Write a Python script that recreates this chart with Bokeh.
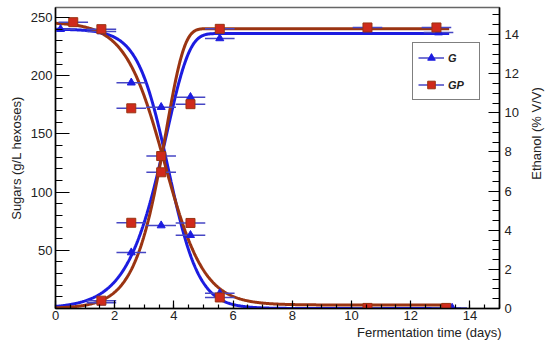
import math
import numpy as np
from bokeh.plotting import figure
from bokeh.layouts import row
from bokeh.models import (Range1d, LinearAxis, Legend, LegendItem, ColumnDataSource,
                          SingleIntervalTicker, Label, Title)
from bokeh.embed import file_html
from bokeh.resources import INLINE

# ---------------- data ----------------
# Sugars (g/L hexoses), left axis
t_sug_G = [0.17, 1.55, 2.56, 3.57, 4.56, 5.55, 13.4]
sug_G = [240, 238, 194, 173, 63, 13, 0.5]
t_sug_GP = [0.6, 1.55, 2.56, 3.57, 4.56, 5.55, 10.54, 13.2]
sug_GP = [246, 240, 172, 131, 73.5, 9.5, 0.5, 0.5]
# Ethanol (% V/V), right axis
t_eth_G = [1.55, 2.56, 3.57, 4.56, 5.55, 12.94]
eth_G = [0.3, 2.86, 4.24, 10.8, 13.8, 14.1]
t_eth_GP = [1.55, 2.56, 3.57, 4.56, 5.55, 10.54, 12.87]
eth_GP = [0.4, 4.38, 6.96, 10.44, 14.29, 14.36, 14.36]
t_err = 0.5  # horizontal error (days)

# fitted model parameters
fit_sug_G = dict(top=240.0, bottom=0.0, k=1.93, t0=3.81)     # logistic decay
fit_sug_GP = dict(top=246.0, bottom=3.0, k=1.5, t0=3.69)     # logistic decay
fit_eth_G = dict(top=14.05, k=1.3, tm=3.75)                   # 1-exp(-exp(k(t-tm)))
fit_eth_GP = dict(top=14.3, k=1.62, tm=3.735)

series_names = ["G", "GP"]
x_label = "Fermentation time (days)"
y_label = "Sugars (g/L hexoses)"
y2_label = "Ethanol (% V/V)"

# ---------------- helpers ----------------
def sugar_fit(t, top, bottom, k, t0):
    return bottom + (top - bottom) / (1.0 + np.exp(k * (t - t0)))

def ethanol_fit(t, top, k, tm):
    return top * (1.0 - np.exp(-np.exp(k * (t - tm))))

tt = np.linspace(0, 13.3, 600)

BLUE = "#1c1ce0"
BROWN = "#9a3412"
RED = "#cf2a1c"
BAR = "#4646c4"
FONT = "Liberation Sans"
TXT = "#222222"

p = figure(width=528, height=349, output_backend="svg", toolbar_location=None,
           x_range=Range1d(0, 15), y_range=Range1d(0, 258.6),
           min_border_left=55, min_border_right=29, min_border_top=7, min_border_bottom=41,
           background_fill_color="white", border_fill_color="white")
p.extra_y_ranges = {"eth": Range1d(0, 15.38)}
p.xgrid.visible = False
p.ygrid.visible = False
p.outline_line_color = "#666666"
p.outline_line_width = 1.5

# fit curves
p.line(tt, sugar_fit(tt, **fit_sug_G), line_color=BLUE, line_width=3)
p.line(tt, ethanol_fit(tt, **fit_eth_G), line_color=BLUE, line_width=3, y_range_name="eth")
p.line(tt, sugar_fit(tt, **fit_sug_GP), line_color=BROWN, line_width=3)
p.line(tt, ethanol_fit(tt, **fit_eth_GP), line_color=BROWN, line_width=3, y_range_name="eth")

def bars(t, y, rng=None):
    t = np.asarray(t, float)
    src = ColumnDataSource(dict(x0=t - t_err, x1=t + t_err, y=y))
    kw = {"y_range_name": rng} if rng else {}
    return p.segment("x0", "y", "x1", "y", source=src, line_color=BAR, line_width=1.5, **kw)

bG1 = bars(t_sug_G, sug_G)
bG2 = bars(t_eth_G, eth_G, "eth")
bP1 = bars(t_sug_GP, sug_GP)
bP2 = bars(t_eth_GP, eth_GP, "eth")

mG1 = p.scatter(t_sug_G, sug_G, marker="triangle", size=8, fill_color=BLUE, line_color=BLUE)
mG2 = p.scatter(t_eth_G, eth_G, marker="triangle", size=8, fill_color=BLUE, line_color=BLUE,
                y_range_name="eth")
mP1 = p.scatter(t_sug_GP, sug_GP, marker="square", size=9, fill_color=RED, line_color=BROWN)
mP2 = p.scatter(t_eth_GP, eth_GP, marker="square", size=9, fill_color=RED, line_color=BROWN,
                y_range_name="eth")

# axes
xa = p.xaxis[0]
xa.ticker = SingleIntervalTicker(interval=2, num_minor_ticks=4)
ya = p.yaxis[0]
ya.ticker = SingleIntervalTicker(interval=50, num_minor_ticks=5)
ya.major_label_overrides = {0: ""}
ra = LinearAxis(y_range_name="eth", ticker=SingleIntervalTicker(interval=2, num_minor_ticks=4))
p.add_layout(ra, "right")

for ax, tin, tmin in ((xa, 8, 4), (ya, 14, 7), (ra, 11, 7)):
    ax.axis_line_color = "black"
    ax.axis_line_width = 1.5
    ax.major_tick_in = tin
    ax.major_tick_out = 0
    ax.minor_tick_in = tmin
    ax.minor_tick_out = 0
    ax.major_tick_line_color = "black"
    ax.minor_tick_line_color = "black"
    ax.major_tick_line_width = 1.2
    ax.minor_tick_line_width = 1.2
    ax.major_label_text_font = FONT
    ax.major_label_text_font_size = "13px"
    ax.major_label_text_color = TXT
    ax.axis_label_text_font = FONT
    ax.axis_label_text_font_size = "13px"
    ax.axis_label_text_font_style = "normal"
    ax.axis_label_text_color = TXT

xa.major_label_standoff = 2
ya.axis_label = y_label
ya.major_label_standoff = 3
ya.axis_label_standoff = 4
ra.major_label_standoff = 5

# right-aligned x title below the axis
p.add_layout(Title(text=x_label, align="right", standoff=0, offset=-2,
                   text_font=FONT, text_font_size="13px", text_font_style="normal",
                   text_color=TXT), "below")

legend = Legend(items=[LegendItem(label=series_names[0], renderers=[bG1, mG1]),
                       LegendItem(label=series_names[1], renderers=[bP1, mP1])],
                location=(357, 208), orientation="vertical",
                glyph_width=26, glyph_height=19, label_standoff=4, label_width=26,
                spacing=8, padding=5, margin=0,
                border_line_color="black", border_line_width=1.5,
                background_fill_color="white", background_fill_alpha=1,
                label_text_font=FONT, label_text_font_size="11px",
                label_text_font_style="bold italic", label_text_color=TXT)
p.add_layout(legend, "center")

# narrow strip on the right holding the upward-reading ethanol title
side = figure(width=22, height=349, output_backend="svg", toolbar_location=None,
              x_range=Range1d(0, 22), y_range=Range1d(0, 349),
              x_axis_type=None, y_axis_type=None, min_border=0,
              background_fill_color="white", border_fill_color="white")
side.outline_line_color = None
side.xgrid.visible = False
side.ygrid.visible = False
side.add_layout(Label(x=8, y=203, text=y2_label, angle=math.pi / 2,
                      text_align="center", text_baseline="middle",
                      text_font=FONT, text_font_size="13px", text_color=TXT))

open("out.html", "w").write(file_html(row(p, side), INLINE))
